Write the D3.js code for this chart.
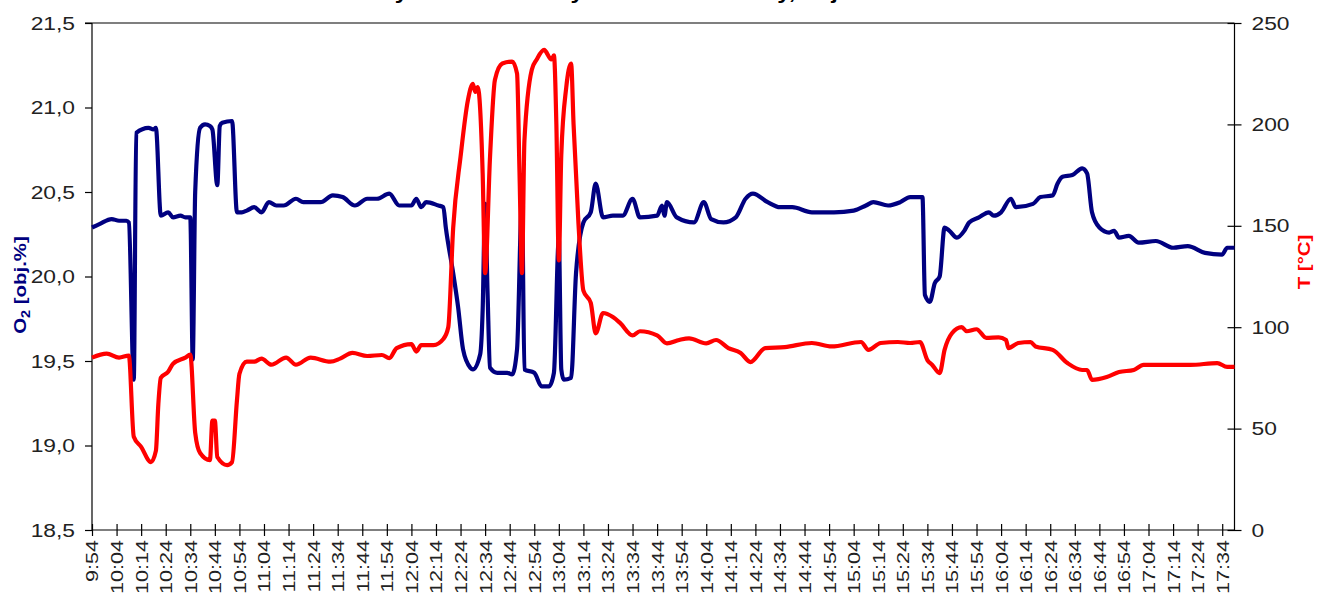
<!DOCTYPE html>
<html>
<head>
<meta charset="utf-8">
<script src="https://cdn.jsdelivr.net/npm/d3@7"></script>
<style>
body { margin: 0; background: #fff; }
svg { font-family: "Liberation Sans", Arial, sans-serif; }
</style>
</head>
<body>
<script>
//O2 series (left axis) - times
var o2Times = ["9:54","9:57","10:02","10:05","10:08","10:09","10:11","10:12","10:17","10:19","10:20","10:22","10:25","10:27","10:30","10:32","10:34","10:35","10:36","10:38","10:40","10:42","10:43","10:45","10:46","10:47","10:51","10:53","10:55","10:57","11:00","11:03","11:06","11:09","11:12","11:17","11:20","11:23","11:27","11:32","11:36","11:41","11:46","11:50","11:55","11:59","12:04","12:06","12:08","12:10","12:15","12:17","12:18","12:21","12:23","12:25","12:28","12:29","12:32","12:33","12:34","12:35","12:36","12:39","12:43","12:45","12:47","12:49","12:50","12:54","12:57","13:00","13:02","13:04","13:05","13:06","13:09","13:11","13:14","13:17","13:19","13:22","13:26","13:30","13:34","13:37","13:44","13:46","13:47","13:48","13:52","13:59","14:03","14:06","14:11","14:16","14:20","14:23","14:29","14:34","14:39","14:47","14:56","15:04","15:09","15:12","15:18","15:23","15:27","15:32","15:33","15:35","15:37","15:39","15:41","15:43","15:46","15:49","15:51","15:55","15:59","16:01","16:04","16:08","16:10","16:17","16:20","16:25","16:27","16:29","16:33","16:37","16:39","16:41","16:44","16:48","16:50","16:52","16:56","17:00","17:07","17:14","17:20","17:27","17:34","17:36","17:39"];
var o2Values = [20.29,20.31,20.34,20.33,20.33,20.32,19.39,20.85,20.88,20.87,20.88,20.36,20.38,20.35,20.36,20.35,20.35,19.51,20.5,20.88,20.90,20.89,20.87,20.54,20.89,20.91,20.92,20.38,20.38,20.39,20.41,20.38,20.44,20.42,20.42,20.46,20.44,20.44,20.44,20.48,20.47,20.42,20.46,20.46,20.49,20.42,20.42,20.46,20.41,20.44,20.42,20.41,20.29,20.02,19.82,19.57,19.46,19.45,19.54,19.8,20.43,19.9,19.46,19.43,19.43,19.42,19.57,20.45,19.45,19.43,19.35,19.35,19.43,20.22,19.45,19.39,19.40,20.02,20.32,20.38,20.55,20.35,20.36,20.36,20.46,20.35,20.36,20.42,20.36,20.44,20.35,20.32,20.44,20.34,20.32,20.35,20.46,20.49,20.44,20.41,20.41,20.38,20.38,20.39,20.42,20.44,20.42,20.44,20.47,20.47,19.89,19.85,19.96,20.0,20.29,20.27,20.23,20.27,20.32,20.35,20.38,20.36,20.38,20.46,20.41,20.43,20.47,20.48,20.55,20.59,20.60,20.64,20.61,20.38,20.29,20.26,20.27,20.23,20.24,20.20,20.21,20.17,20.18,20.14,20.13,20.17,20.17];

//temperature series (right axis)
var tTimes = ["9:54","10:00","10:05","10:09","10:11","10:14","10:18","10:20","10:21","10:22","10:25","10:27","10:32","10:34","10:36","10:38","10:42","10:43","10:44","10:45","10:49","10:51","10:53","10:54","10:57","11:00","11:03","11:07","11:13","11:17","11:23","11:31","11:35","11:40","11:46","11:52","11:55","11:58","12:04","12:06","12:08","12:13","12:17","12:19","12:21","12:24","12:27","12:29","12:30","12:31","12:33","12:34","12:36","12:38","12:41","12:45","12:47","12:48","12:49","12:50","12:53","12:55","12:58","13:01","13:02","13:03","13:04","13:05","13:07","13:09","13:10","13:12","13:14","13:17","13:19","13:22","13:26","13:29","13:34","13:37","13:44","13:48","13:53","13:57","14:04","14:08","14:13","14:18","14:22","14:28","14:36","14:47","14:55","15:07","15:10","15:15","15:22","15:27","15:31","15:34","15:36","15:39","15:41","15:44","15:48","15:50","15:54","15:58","16:03","16:06","16:07","16:11","16:16","16:18","16:25","16:31","16:37","16:39","16:41","16:47","16:52","16:58","17:02","17:12","17:21","17:32","17:36","17:39"];
var tValues = [85,87,85,86,46,41,33.5,39,62,75,78,82,85,86.5,48,38,34.5,54,54,36,32,33.5,64,77,83,83,84.5,81.5,85,81.5,85,83,84.5,87.3,85.8,86.3,84.8,89.7,91.7,88,91.2,91.2,94.2,100,149,184,212,220,216,218.4,176,126.7,184,222,230,231,225,176,126.7,192,227,232,236.7,232,234,200,133,185,218,230,200,151,118,112,97,107,105,102,96,98,96,92,93.7,94.5,92,93.7,89.7,87.3,82.8,89.7,90.2,92.2,90.5,92.7,88.8,92.2,92.7,92.2,92.7,83.8,81.4,77.4,88.8,97,100,98,99,94.7,95,93.7,89.7,92.2,92.7,90.5,88.8,82.3,78.9,78.9,74,75.4,77.9,78.9,81.4,81.4,81.4,82.3,80.4,80.4];

//axis ticks
var o2Ticks = [18.5, 19.0, 19.5, 20.0, 20.5, 21.0, 21.5];
var tTicks = [0, 50, 100, 150, 200, 250];
var xStart = "9:54", xEnd = "17:39", xLastLabel = "17:34";
var titleText = "Obsah kyslíku a hodnoty T během zkoušky, objekt K1";

(function() {

    var width = 1317, height = 595;
    var plotLeft = 92, plotRight = 1234.5, plotTop = 23, plotBottom = 530;
    var stretch = 1.2;   //text in the source is drawn wider than plain Arial

    var parseTime = d3.timeParse("%H:%M");
    var fmt = d3.timeFormat("%-H:%M");

    var svg = d3.select("body").append("svg")
        .attr("width", width)
        .attr("height", height);

    var x = d3.scaleTime()
        .domain([parseTime(xStart), parseTime(xEnd)])
        .range([plotLeft, plotRight]);

    var yO2 = d3.scaleLinear().domain([18.5, 21.5]).range([plotBottom, plotTop]);
    var yT = d3.scaleLinear().domain([0, 250]).range([plotBottom, plotTop]);

    //title, mostly above the visible area
    svg.append("text")
        .attr("transform", "translate(605,-1) scale(" + stretch + ",1)")
        .attr("text-anchor", "middle")
        .style("font-size", "20px")
        .style("font-weight", "bold")
        .text(titleText);

    //top border of plot area
    svg.append("line")
        .attr("x1", plotLeft - 7).attr("x2", plotRight)
        .attr("y1", plotTop).attr("y2", plotTop)
        .attr("stroke", "#000").attr("stroke-width", 1.2);

    //left axis
    var leftAxis = svg.append("g")
        .attr("transform", "translate(" + plotLeft + ",0)")
        .call(d3.axisLeft(yO2).tickValues(o2Ticks).tickSize(7)
            .tickFormat(function(d) { return d3.format(".1f")(d).replace(".", ","); }));
    leftAxis.selectAll(".tick text")
        .attr("x", 0)
        .attr("transform", "translate(-17,0) scale(" + stretch + ",1)");

    //right axis
    var rightAxis = svg.append("g")
        .attr("transform", "translate(" + plotRight + ",0)")
        .call(d3.axisRight(yT).tickValues(tTicks).tickSize(7));
    rightAxis.selectAll(".tick line").attr("x1", -7);
    rightAxis.selectAll(".tick text")
        .attr("x", 0)
        .attr("transform", "translate(17,0) scale(" + stretch + ",1)");

    //bottom axis, ticks every 10 min
    var tickTimes = d3.timeMinute.range(parseTime(xStart), d3.timeMinute.offset(parseTime(xLastLabel), 1), 10);
    var bottomAxis = svg.append("g")
        .attr("transform", "translate(0," + plotBottom + ")")
        .call(d3.axisBottom(x).tickValues(tickTimes).tickSize(6).tickFormat(fmt));
    bottomAxis.selectAll(".tick line").attr("y1", -6);
    bottomAxis.selectAll(".tick text")
        .attr("transform", "translate(0,10) rotate(-90) scale(1.27,1)")
        .attr("text-anchor", "end")
        .attr("x", 0)
        .attr("y", 0)
        .attr("dy", "0.35em")
        .style("font-size", "17px");

    svg.selectAll(".domain").attr("stroke", "#000").attr("stroke-width", 1.2);
    svg.selectAll(".tick line").attr("stroke", "#000").attr("stroke-width", 1.2);
    leftAxis.selectAll("text").style("font-size", "19px").attr("fill", "#222");
    rightAxis.selectAll("text").style("font-size", "19px").attr("fill", "#222");
    bottomAxis.selectAll("text").attr("fill", "#222");
    leftAxis.select(".domain").attr("d", "M0," + plotTop + "V" + plotBottom);
    rightAxis.select(".domain").attr("d", "M0," + plotTop + "V" + plotBottom);
    bottomAxis.select(".domain").attr("d", "M" + plotLeft + ",0H" + plotRight);

    //axis titles
    var o2Label = svg.append("text")
        .attr("transform", "translate(26,285) rotate(-90) scale(" + stretch + ",1)")
        .attr("text-anchor", "middle")
        .style("font-size", "17px")
        .style("font-weight", "bold")
        .attr("fill", "#000080");
    o2Label.append("tspan").text("O");
    o2Label.append("tspan").attr("dy", 4).style("font-size", "12px").text("2");
    o2Label.append("tspan").attr("dy", -4).text(" [obj.%]");

    svg.append("text")
        .attr("transform", "translate(1310,262) rotate(-90) scale(" + stretch + ",1)")
        .attr("text-anchor", "middle")
        .style("font-size", "17px")
        .style("font-weight", "bold")
        .attr("fill", "#ff0000")
        .text("T [°C]");

    //lines
    var o2Line = d3.line()
        .x(function(d, i) { return x(parseTime(o2Times[i])); })
        .y(function(d) { return yO2(d); })
        .curve(d3.curveMonotoneX);

    var tLine = d3.line()
        .x(function(d, i) { return x(parseTime(tTimes[i])); })
        .y(function(d) { return yT(d); })
        .curve(d3.curveMonotoneX);

    svg.append("path")
        .datum(o2Values)
        .attr("d", o2Line)
        .attr("fill", "none")
        .attr("stroke", "#000080")
        .attr("stroke-width", 4.2)
        .attr("stroke-linejoin", "round");

    svg.append("path")
        .datum(tValues)
        .attr("d", tLine)
        .attr("fill", "none")
        .attr("stroke", "#ff0000")
        .attr("stroke-width", 4.2)
        .attr("stroke-linejoin", "round");

})();
</script>
</body>
</html>
